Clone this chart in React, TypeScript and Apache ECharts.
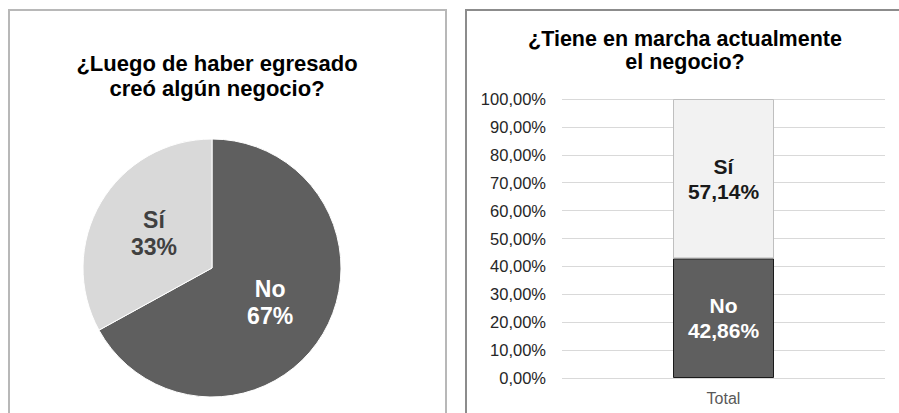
import React, { useEffect, useRef } from "react";
import * as echarts from "echarts";

const pieTitle = "¿Luego de haber egresado\ncreó algún negocio?";
const pieNames = ["No", "Sí"];
const pieValues = [67, 33];
const pieColors = ["#5f5f5f", "#d9d9d9"];
const pieLabelColors = ["#ffffff", "#404040"];

const barTitle = "¿Tiene en marcha actualmente\nel negocio?";
const barCategories = ["Total"];
const barSeriesNames = ["No", "Sí"];
const barValues = [[0.4286], [0.5714]];
const barColors = ["#5f5f5f", "#f2f2f2"];
const barBorders = ["#1a1a1a", "#bfbfbf"];
const barLabelColors = ["#ffffff", "#1a1a1a"];

const fmtPct = (v: number) => (v * 100).toFixed(2).replace(".", ",") + "%";

export default function App() {
  const ref = useRef<HTMLDivElement>(null);
  useEffect(() => {
    if (!ref.current) return;
    const chart = echarts.init(ref.current, null, { renderer: "svg" });
    const font = "'Liberation Sans', Arial, sans-serif";
    chart.setOption({
      animation: false,
      textStyle: { fontFamily: font },
      title: [
        {
          text: pieTitle,
          left: 212,
          top: 46,
          textAlign: "center",
          textStyle: { fontSize: 22, fontWeight: "bold", color: "#000", lineHeight: 25, fontFamily: font },
        },
        {
          text: barTitle,
          left: 680,
          top: 22,
          textAlign: "center",
          textStyle: { fontSize: 21.5, fontWeight: "bold", color: "#000", lineHeight: 23, fontFamily: font },
        },
      ],
      graphic: [
        {
          type: "rect",
          shape: { x: 9, y: 10, width: 437, height: 420 },
          style: { fill: "none", stroke: "#b8b8b8", lineWidth: 2 },
          silent: true,
        },
        {
          type: "rect",
          shape: { x: 466, y: 10, width: 450, height: 420 },
          style: { fill: "none", stroke: "#8c8c8c", lineWidth: 2 },
          silent: true,
        },
      ],
      grid: { left: 562, right: 14, top: 99, bottom: 35, containLabel: false },
      xAxis: {
        type: "category",
        data: barCategories,
        axisLine: { show: false },
        axisTick: { show: false },
        axisLabel: { fontSize: 16, color: "#595959", margin: 12, fontFamily: font },
      },
      yAxis: {
        type: "value",
        min: 0,
        max: 1,
        interval: 0.1,
        axisLine: { show: false },
        axisTick: { show: false },
        axisLabel: {
          fontSize: 16.5,
          color: "#262626",
          margin: 16,
          fontFamily: font,
          formatter: (v: number) => fmtPct(v),
        },
        splitLine: { lineStyle: { color: "#d9d9d9", width: 1 } },
      },
      series: [
        {
          type: "pie",
          center: [212, 268],
          radius: [0, 129],
          startAngle: 90,
          clockwise: true,
          data: pieNames.map((n, i) => ({
            name: n,
            value: pieValues[i],
            itemStyle: { color: pieColors[i] },
            label: { color: pieLabelColors[i] },
          })),
          itemStyle: { borderColor: "#ffffff", borderWidth: 1 },
          label: {
            show: true,
            position: "inside",
            fontSize: 23,
            fontWeight: "bold",
            lineHeight: 27,
            fontFamily: font,
            formatter: (p: any) => `${p.name}\n${p.value}%`,
          },
          labelLine: { show: false },
          emphasis: { disabled: true },
        },
        ...barSeriesNames.map((n, i) => ({
          type: "bar",
          name: n,
          stack: "total",
          barWidth: 101,
          data: barValues[i],
          itemStyle: { color: barColors[i], borderColor: barBorders[i], borderWidth: 1 },
          label: {
            show: true,
            position: "inside",
            color: barLabelColors[i],
            fontSize: 21,
            fontWeight: "bold",
            lineHeight: 25,
            fontFamily: font,
            formatter: (p: any) => `${p.seriesName}\n${fmtPct(p.value)}`,
          },
          emphasis: { disabled: true },
        })),
      ],
    });
    return () => chart.dispose();
  }, []);
  return (
    <div
      ref={ref}
      style={{ position: "fixed", left: 0, top: 0, width: 899, height: 413, background: "#fff" }}
    />
  );
}
